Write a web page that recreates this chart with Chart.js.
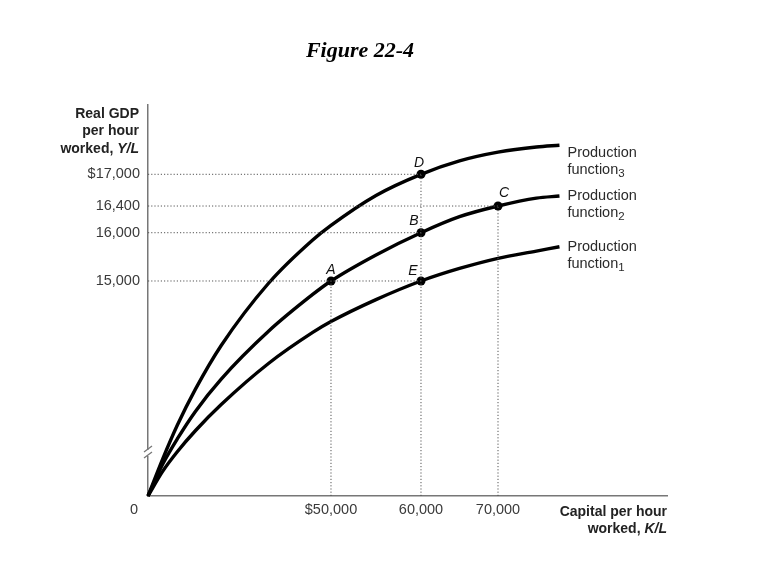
<!DOCTYPE html>
<html lang="en">
<head>
    <meta charset="UTF-8">
    <title>Figure 22-4</title>
    <script src="https://cdn.jsdelivr.net/npm/chart.js@4"></script>
    <style>
        body {
            margin: 0;
            background-color: #fff;
        }
        .chart-wrap {
            width: 758px;
            height: 578px;
            position: relative;
        }
    </style>
</head>
<body>
    <div class="chart-wrap">
        <canvas id="chart"></canvas>
    </div>

    <script>
        // Capital per hour worked (K/L), shared sample points of the three curves
        const capital = [0, 4000, 8000, 13000, 20000, 33000, 45000, 50000, 55000, 60000, 65000, 70000, 75000, 78000];
        // Real GDP per hour worked (Y/L) on each production function
        const function1 = [0, 1720, 3090, 4570, 6380, 9260, 11410, 12170, 13700, 15000, 15260, 15470, 15620, 15710];
        const function2 = [0, 2210, 3980, 5920, 8160, 11510, 14060, 15000, 15540, 16000, 16240, 16400, 16550, 16590];
        const function3 = [0, 2570, 4930, 7470, 10500, 14860, 15850, 16110, 16600, 17000, 17230, 17380, 17470, 17500];
        const curveIndex = ['1', '2', '3'];

        // Marked points
        const pointNames = ['A', 'B', 'C', 'D', 'E'];
        const pointK = [50000, 60000, 70000, 60000, 60000];
        const pointY = [15000, 16000, 16400, 17000, 15000];

        // Tick labels
        const xTickValues = [50000, 60000, 70000];
        const xTickLabels = ['$50,000', '60,000', '70,000'];
        const yTickValues = [15000, 16000, 16400, 17000];
        const yTickLabels = ['15,000', '16,000', '16,400', '$17,000'];

        // The textbook axes are drawn schematically (with a break on the Y axis),
        // so each axis maps values piecewise onto its length.
        const axisShape = {
            x: { values: [0, 50000, 60000, 70000, 92000], frac: [0, 0.3526, 0.5260, 0.6744, 1] },
            y: { values: [0, 15000, 16000, 16400, 17000, 18200], frac: [0, 0.5492, 0.6725, 0.7407, 0.8217, 1] }
        };
        const yBreakValue = 3000;

        function piecewise(v, from, to) {
            if (v <= from[0]) return to[0] + (v - from[0]) * (to[1] - to[0]) / (from[1] - from[0]);
            for (let i = 1; i < from.length; i++) {
                if (v <= from[i] || i === from.length - 1) {
                    const t = (v - from[i - 1]) / (from[i] - from[i - 1]);
                    return to[i - 1] + t * (to[i] - to[i - 1]);
                }
            }
        }

        class BrokenScale extends Chart.LinearScale {
            getPixelForValue(value) {
                const s = axisShape[this.id];
                return this.getPixelForDecimal(piecewise(value, s.values, s.frac));
            }
            getValueForPixel(pixel) {
                const s = axisShape[this.id];
                return piecewise(this.getDecimalForPixel(pixel), s.frac, s.values);
            }
        }
        BrokenScale.id = 'broken';
        BrokenScale.defaults = Chart.LinearScale.defaults;
        Chart.register(BrokenScale);

        const SANS = '"Liberation Sans", Arial, sans-serif';
        const SERIF = '"Liberation Serif", "Times New Roman", serif';

        // dotted guides: one vertical per K value (up to its highest point),
        // one horizontal per Y value (across to its farthest point)
        const vTop = {};
        const hEnd = {};
        pointK.forEach((k, i) => {
            vTop[k] = Math.max(vTop[k] || 0, pointY[i]);
            hEnd[pointY[i]] = Math.max(hEnd[pointY[i]] || 0, k);
        });
        const guides = [];
        Object.keys(vTop).forEach(k => guides.push([{ x: +k, y: 0 }, { x: +k, y: vTop[k] }]));
        Object.keys(hEnd).forEach(v => guides.push([{ x: 0, y: +v }, { x: hEnd[v], y: +v }]));
        const guideSets = guides.map(g => ({
            type: 'line',
            data: g,
            borderColor: '#555',
            borderWidth: 1,
            borderDash: [1.2, 2],
            pointRadius: 0,
            fill: false
        }));

        const curveSets = [function1, function2, function3].map((fn, i) => ({
            type: 'line',
            label: 'Production function' + curveIndex[i],
            data: capital.map((k, j) => ({ x: k, y: fn[j] })),
            borderColor: '#000',
            borderWidth: 3.4,
            cubicInterpolationMode: 'monotone',
            pointRadius: 0,
            fill: false,
            clip: false
        }));

        const pointSet = {
            type: 'line',
            data: pointK.map((k, i) => ({ x: k, y: pointY[i] })),
            showLine: false,
            pointRadius: 4.5,
            pointBackgroundColor: '#000',
            pointBorderWidth: 0,
            clip: false
        };

        function richText(ctx, parts, x, y, align) {
            let total = 0;
            parts.forEach(p => { ctx.font = p.font; total += ctx.measureText(p.text).width; });
            let cx = align === 'right' ? x - total : (align === 'center' ? x - total / 2 : x);
            ctx.textAlign = 'left';
            parts.forEach(p => {
                ctx.font = p.font;
                ctx.fillText(p.text, cx, y + (p.dy || 0));
                cx += ctx.measureText(p.text).width;
            });
        }

        const figureText = {
            id: 'figureText',
            afterDraw(chart) {
                const { ctx } = chart;
                const xs = chart.scales.x;
                const ys = chart.scales.y;
                const ox = xs.getPixelForValue(0);
                const oy = ys.getPixelForValue(0);
                ctx.save();
                ctx.textBaseline = 'middle';

                // title
                ctx.fillStyle = '#000';
                ctx.font = 'italic bold 22px ' + SERIF;
                ctx.textAlign = 'center';
                ctx.fillText('Figure 22-4', 360, 51);

                // axis break on Y
                const by = ys.getPixelForValue(yBreakValue);
                ctx.fillStyle = '#fff';
                ctx.fillRect(ox - 2, by - 3, 4, 6);
                ctx.strokeStyle = '#777';
                ctx.lineWidth = 1.3;
                ctx.beginPath();
                ctx.moveTo(ox - 4, by - 1); ctx.lineTo(ox + 4, by - 7);
                ctx.moveTo(ox - 4, by + 5); ctx.lineTo(ox + 4, by - 1);
                ctx.stroke();

                // Y axis title
                ctx.fillStyle = '#222';
                const bold = 'bold 14px ' + SANS;
                const boldIt = 'italic bold 14px ' + SANS;
                ctx.font = bold;
                ctx.textAlign = 'right';
                ctx.fillText('Real GDP', ox - 9, 114);
                ctx.fillText('per hour', ox - 9, 131);
                richText(ctx, [{ text: 'worked, ', font: bold }, { text: 'Y/L', font: boldIt }], ox - 9, 149, 'right');

                // X axis title
                ctx.font = bold;
                ctx.textAlign = 'right';
                ctx.fillText('Capital per hour', xs.right, 512);
                richText(ctx, [{ text: 'worked, ', font: bold }, { text: 'K/L', font: boldIt }], xs.right, 529, 'right');

                // ticks
                ctx.fillStyle = '#3a3a3a';
                ctx.font = '14.5px ' + SANS;
                ctx.textAlign = 'right';
                yTickValues.forEach((v, i) => ctx.fillText(yTickLabels[i], ox - 8, ys.getPixelForValue(v)));
                ctx.textAlign = 'center';
                xTickValues.forEach((v, i) => ctx.fillText(xTickLabels[i], xs.getPixelForValue(v), oy + 14));
                ctx.fillText('0', ox - 14, oy + 14);

                // point names
                const nameOffset = { A: [0, -11], B: [-7, -12], C: [6, -13], D: [-2, -11], E: [-8, -10] };
                ctx.fillStyle = '#111';
                ctx.font = 'italic 14px ' + SANS;
                pointNames.forEach((n, i) => {
                    const off = nameOffset[n];
                    ctx.fillText(n, xs.getPixelForValue(pointK[i]) + off[0], ys.getPixelForValue(pointY[i]) + off[1]);
                });

                // curve names
                const ends = [function1, function2, function3].map(fn => fn[fn.length - 1]);
                const lineShift = [0, 0, 8];
                const lx = xs.getPixelForValue(capital[capital.length - 1]) + 8;
                ctx.fillStyle = '#2a2a2a';
                ends.forEach((v, i) => {
                    const ly = ys.getPixelForValue(v) + lineShift[i];
                    ctx.font = '14.5px ' + SANS;
                    ctx.textAlign = 'left';
                    ctx.fillText('Production', lx, ly);
                    richText(ctx, [
                        { text: 'function', font: '14.5px ' + SANS },
                        { text: curveIndex[i], font: '11.5px ' + SANS, dy: 4 }
                    ], lx, ly + 17, 'left');
                });

                ctx.restore();
            }
        };

        new Chart(document.getElementById('chart'), {
            type: 'line',
            data: { datasets: [...guideSets, ...curveSets, pointSet] },
            options: {
                responsive: true,
                maintainAspectRatio: false,
                animation: false,
                layout: { padding: { left: 148, right: 91, top: 104.5, bottom: 82 } },
                plugins: {
                    legend: { display: false },
                    tooltip: { enabled: false }
                },
                scales: {
                    x: {
                        type: 'broken',
                        min: 0,
                        max: 92000,
                        ticks: { display: false },
                        grid: { display: false, drawTicks: false },
                        border: { display: true, color: '#777', width: 1.5 }
                    },
                    y: {
                        type: 'broken',
                        min: 0,
                        max: 18200,
                        ticks: { display: false },
                        grid: { display: false, drawTicks: false },
                        border: { display: true, color: '#777', width: 1.5 }
                    }
                }
            },
            plugins: [figureText]
        });
    </script>
</body>
</html>
